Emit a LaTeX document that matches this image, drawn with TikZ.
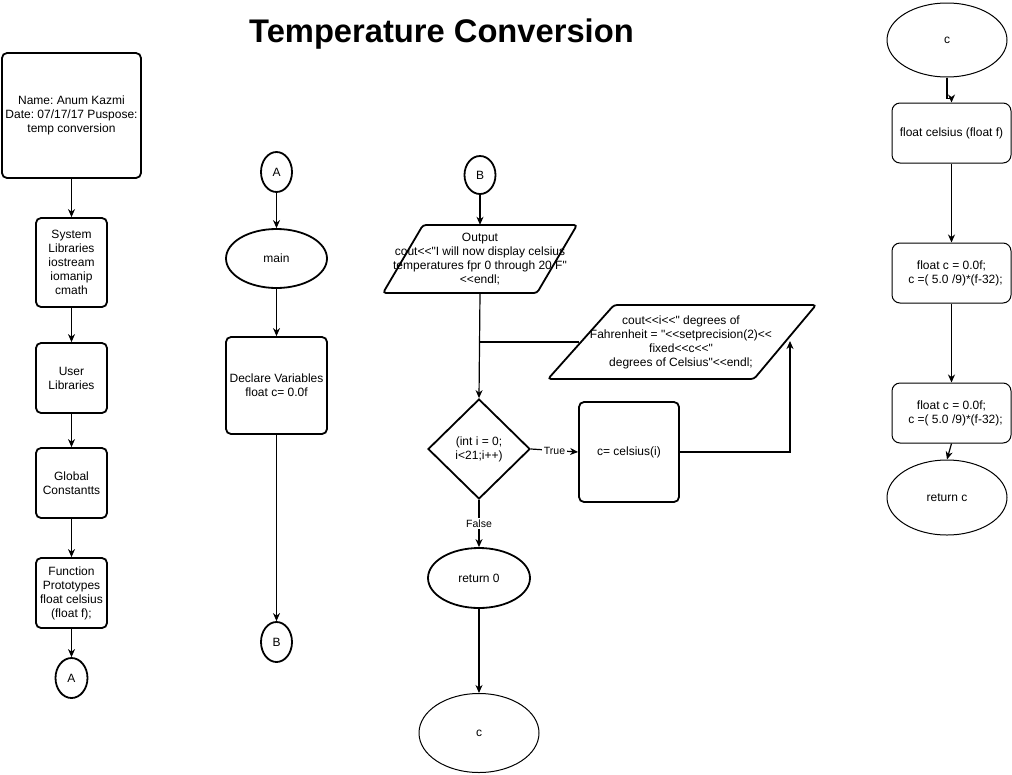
\documentclass[tikz,border=0pt]{standalone}
\usepackage{fontspec}
\setmainfont{Liberation Sans}[Ligatures=TeXOff]
\usetikzlibrary{shapes.geometric,arrows.meta}
\begin{document}
\frenchspacing
\begin{tikzpicture}[x=1pt,y=-1pt,
  every node/.style={font=\fontsize{12}{14}\selectfont\frenchspacing, align=center, inner sep=0pt},
  thk/.style={draw, line width=1.8pt},
  thn/.style={draw, line width=1pt},
  rbox/.style={thk, rectangle, rounded corners=5pt},
  rboxthin/.style={thn, rectangle, rounded corners=8pt},
  ell/.style={thk, ellipse},
  ellthin/.style={thn, ellipse},
  conn/.style={line width=1.2pt, -{Stealth[length=8pt,width=7pt,inset=2.5pt]}},
  plain/.style={line width=1.2pt},
  lbl/.style={font=\fontsize{10.5}{12}\selectfont, fill=white, inner sep=1.5pt}
]
\useasboundingbox (0,0) rectangle (1012,774);

% title
\node (title) at (441.5,34) {\fontsize{32.7}{38}\selectfont\bfseries Temperature Conversion};

% left column
\node[rbox, minimum width=139, minimum height=125] (name) at (71.5,115.5) {Name: Anum Kazmi\\Date: 07/17/17 Puspose:\\temp conversion};
\node[rbox, minimum width=71, minimum height=89] (sys) at (71.5,262.5) {System\\Libraries\\iostream\\iomanip\\cmath};
\node[rbox, minimum width=71, minimum height=70] (user) at (71.5,378) {User\\Libraries};
\node[rbox, minimum width=71, minimum height=70] (glob) at (71.5,483) {Global\\Constantts};
\node[rbox, minimum width=71, minimum height=70] (func) at (71.5,593) {Function\\Prototypes\\float celsius\\(float f);};
\node[ell, minimum width=32, minimum height=40] (A1) at (71.5,678) {A};

\draw[conn] (name) -- (sys);
\draw[conn] (sys) -- (user);
\draw[conn] (user) -- (glob);
\draw[conn] (glob) -- (func);
\draw[conn] (func) -- (A1);

% second column
\node[ell, minimum width=31, minimum height=40] (A2) at (276.5,172) {A};
\node[ell, minimum width=101, minimum height=59] (main) at (276.5,258.5) {main};
\node[rbox, minimum width=101, minimum height=97] (decl) at (276.5,385.5) {Declare Variables\\float c= 0.0f};
\node[ell, minimum width=31, minimum height=40] (B2) at (276.5,642) {B};

\draw[conn] (A2) -- (main);
\draw[conn] (main) -- (decl);
\draw[conn] (decl) -- (B2);

% third column
\node[ell, minimum width=31, minimum height=38] (B3) at (480,175) {B};
\draw[thk, rounded corners=3pt] (423,225) -- (577,225) -- (537,293) -- (383,293) -- cycle;
\node[minimum width=194, minimum height=68] (outp) at (480,259) {Output\\cout<<"I will now display celsius\\temperatures fpr 0 through 20 F"\\<<endl;};
\draw[thk, rounded corners=3pt] (614,305) -- (816,305) -- (754,379) -- (548,379) -- cycle;
\node[minimum width=268, minimum height=74] (cout) at (681,342) {cout<<i<<" degrees of\\Fahrenheit = "<<setprecision(2)<<\\fixed<<c<<"\hspace*{34pt}\\ degrees of Celsius"<<endl;};
\coordinate (coutL) at (579,342);
\coordinate (coutR) at (790,341);
\coordinate (join) at (480,342);

\node[thk, diamond, minimum width=102, minimum height=100] (dec) at (479,449) {(int i = 0;\\i<21;i++)};
\node[rbox, minimum width=100, minimum height=100] (cbox) at (629,452) {c= celsius(i)};
\coordinate (loop) at (790,452);
\node[ell, minimum width=102, minimum height=60] (ret0) at (479,578) {return 0};
\node[ellthin, minimum width=120, minimum height=79] (cend) at (479,733) {c};

\draw[conn] (B3) -- (outp);
\draw[conn] (outp.south) -- (dec.north);
\draw[plain] (coutL) -- (join);
\draw[conn] (dec.east) -- node[lbl, pos=0.5] {True} (cbox.west);
\draw[conn] (cbox.east) -- (loop) -- (coutR);
\draw[conn] (dec.south) -- node[lbl, pos=0.5] {False} (ret0.north);
\draw[conn] (ret0) -- (cend);

% right column
\node[ellthin, minimum width=120, minimum height=74] (cfun) at (947,40) {c};
\node[rboxthin, minimum width=119, minimum height=60] (b1) at (951.5,133) {float celsius (float f)};
\node[rboxthin, minimum width=119, minimum height=60] (b2) at (951.5,273) {float c = 0.0f;\\\hspace*{8pt}c =( 5.0 /9)*(f-32);};
\node[rboxthin, minimum width=119, minimum height=60] (b3) at (951.5,413) {float c = 0.0f;\\\hspace*{8pt}c =( 5.0 /9)*(f-32);};
\node[ellthin, minimum width=120, minimum height=75] (retc) at (947,497.5) {return c};

\draw[conn] (cfun.south) -- ++(0,21) -| (b1.north);
\draw[conn] (b1) -- (b2);
\draw[conn] (b2) -- (b3);
\draw[conn] (b3.south) -- (retc.north);
\end{tikzpicture}
\end{document}
